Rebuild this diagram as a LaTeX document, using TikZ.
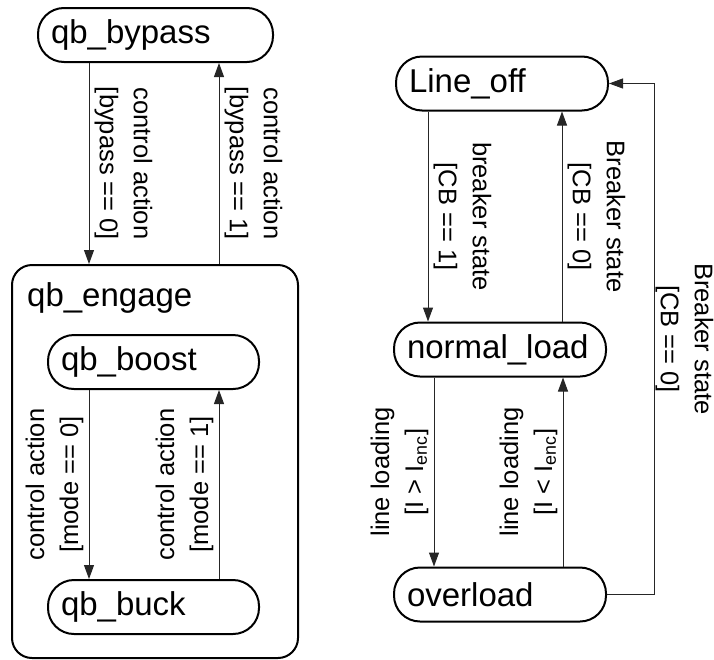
\documentclass[tikz,border=0pt]{standalone}
\usepackage{fontspec}
\setmainfont{Liberation Sans}
\usetikzlibrary{arrows.meta}
\begin{document}
\begin{tikzpicture}[x=1pt,y=-1pt,
  state/.style={draw, line width=2pt, rounded corners=26pt, minimum height=54pt,
    anchor=west, align=left, inner xsep=13pt, inner ysep=0pt,
    font=\fontsize{33}{38}\selectfont},
  arr/.style={line width=1pt, black!85, -{Triangle[length=14pt,width=10pt]}},
  lbl/.style={font=\fontsize{25.5}{34}\selectfont, align=center, anchor=south, inner sep=5pt, black},
  lblr/.style={lbl, rotate=-90},
  lbll/.style={lbl, rotate=90}]
\useasboundingbox (0,0) rectangle (714,659);
% left part
\node[state, text width=209pt] (byp) at (37,35) {qb\_bypass};
\node[draw, line width=2pt, rounded corners=20pt, minimum width=286pt, minimum height=393pt, inner sep=0pt] (eng) at (155,461.5) {};
\node[anchor=base west, inner sep=0pt, font=\fontsize{33}{38}\selectfont] (engtxt) at (27,306) {qb\_engage};
\node[state, text width=185pt] (boost) at (47,362) {qb\_boost};
\node[state, text width=185pt] (buck) at (47,607) {qb\_buck};
\coordinate (cA) at (89,0);
\coordinate (cB) at (219,0);
\draw[arr] (byp.south -| cA) -- node[lblr]{control action\\{[}bypass == 0]} (eng.north -| cA);
\draw[arr] (eng.north -| cB) -- node[lblr]{control action\\{[}bypass == 1]} (byp.south -| cB);
\draw[arr] (boost.south -| cA) -- node[lbll]{control action\\{[}mode == 0]} (buck.north -| cA);
\draw[arr] (buck.north -| cB) -- node[lbll]{control action\\{[}mode == 1]} (boost.south -| cB);
% right part
\node[state, text width=186pt] (lo) at (395,83.5) {Line\_off};
\node[state, text width=186pt] (nl) at (393,349.5) {normal\_load};
\node[state, text width=186pt] (ol) at (393,594.5) {overload};
\coordinate (cC) at (428,0);
\coordinate (cD) at (562,0);
\coordinate (cE) at (434,0);
\coordinate (cF) at (563,0);
\coordinate (cG) at (654,0);
\draw[arr] (lo.south -| cC) -- node[lblr]{breaker state\\{[}CB == 1]} (nl.north -| cC);
\draw[arr] (nl.north -| cD) -- node[lblr]{Breaker state\\{[}CB == 0]} (lo.south -| cD);
\draw[arr] (nl.south -| cE) -- node[lbll]{line loading\\{[}I > I\textsubscript{enc}]} (ol.north -| cE);
\draw[arr] (ol.north -| cF) -- node[lbll]{line loading\\{[}I < I\textsubscript{enc}]} (nl.south -| cF);
\draw[arr] (ol.east) -- (ol.east -| cG) |- node[lblr, pos=0.25, inner sep=1pt]{Breaker state\\{[}CB == 0]} (lo.east);
\end{tikzpicture}
\end{document}
